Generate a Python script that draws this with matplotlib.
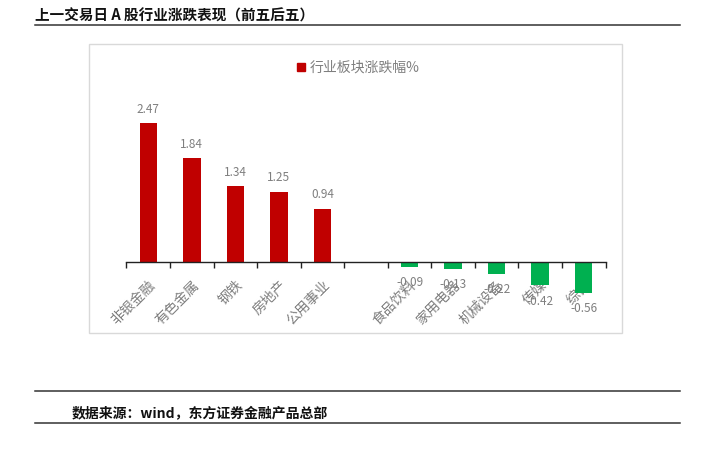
import matplotlib
matplotlib.use("Agg")
import matplotlib.pyplot as plt
from matplotlib.patches import Rectangle
from matplotlib.lines import Line2D

plt.rcParams['font.family'] = ['Noto Sans CJK SC', 'DejaVu Sans']

categories = ["非银金融", "有色金属", "钢铁", "房地产", "公用事业", "",
              "食品饮料", "家用电器", "机械设备", "传媒", "综合"]
values = [2.47, 1.84, 1.34, 1.25, 0.94, None, -0.09, -0.13, -0.22, -0.42, -0.56]
series_name = "行业板块涨跌幅%"
title = "上一交易日 A 股行业涨跌表现（前五后五）"
source = "数据来源：wind，东方证券金融产品总部"

W, H = 720, 477
fig = plt.figure(figsize=(W / 100, H / 100), dpi=100)

def fx(px):
    return px / W

def fy(py):
    return 1 - py / H

# header / footer lines
for y in (26, 392, 424):
    fig.add_artist(Line2D([fx(35), fx(680)], [fy(y), fy(y)], color="#333333", lw=1.1,
                          transform=fig.transFigure))
fig.text(fx(35), fy(15.5), title, fontsize=10.5, color="#111111", va="center", ha="left",
         fontweight="bold")
fig.text(fx(72), fy(413), source, fontsize=10, color="#111111", va="center", ha="left",
         fontweight="bold")

# chart box
fig.add_artist(Rectangle((fx(89), fy(334)), fx(622) - fx(89), fy(45) - fy(334),
                         transform=fig.transFigure, fill=False, edgecolor="#d9d9d9", lw=1))

# axes: zero at y=262.5, 56 px per unit
ymin, ymax = -1.0, 3.0
ppu = 56.0
zero = 262.5
top_px = zero - ymax * ppu
bot_px = zero - ymin * ppu
ax = fig.add_axes([fx(126.5), fy(bot_px), fx(605.5) - fx(126.5), (bot_px - top_px) / H])
ax.set_xlim(-0.5, len(categories) - 0.5)
ax.set_ylim(ymin, ymax)

xs = [i for i, v in enumerate(values) if v is not None]
vs = [v for v in values if v is not None]
colors = ["#C00000" if v >= 0 else "#00B050" for v in vs]
ax.bar(xs, vs, width=0.4, color=colors, zorder=2)

for x, v in zip(xs, vs):
    off = 15 if v >= 0 else -15
    ax.annotate(f"{v:.2f}", (x, v), xytext=(0, off), textcoords="offset pixels",
                ha="center", va="center", fontsize=8.5, color="#7f7f7f", zorder=3)

for s in ("top", "right", "left"):
    ax.spines[s].set_visible(False)
ax.spines["bottom"].set_position(("data", 0))
ax.spines["bottom"].set_color("#222222")
ax.spines["bottom"].set_linewidth(1.0)
ax.set_yticks([])

ax.set_xticks(range(len(categories)))
ax.set_xticklabels(categories, rotation=45, ha="right", rotation_mode="anchor",
                   fontsize=10, color="#7f7f7f", fontweight="light")
ax.tick_params(axis="x", which="major", length=0, pad=11)
ax.set_xticks([i - 0.5 for i in range(len(categories) + 1)], minor=True)
ax.tick_params(axis="x", which="minor", length=4, width=1, color="#222222", direction="out")
ax.patch.set_visible(False)

# legend
fig.add_artist(Rectangle((fx(297), fy(72)), fx(8), fy(64) - fy(72), transform=fig.transFigure,
                         color="#C00000"))
fig.text(fx(310), fy(68), series_name, fontsize=10, color="#7f7f7f", va="center", ha="left")

fig.savefig("out.png", dpi=100)
